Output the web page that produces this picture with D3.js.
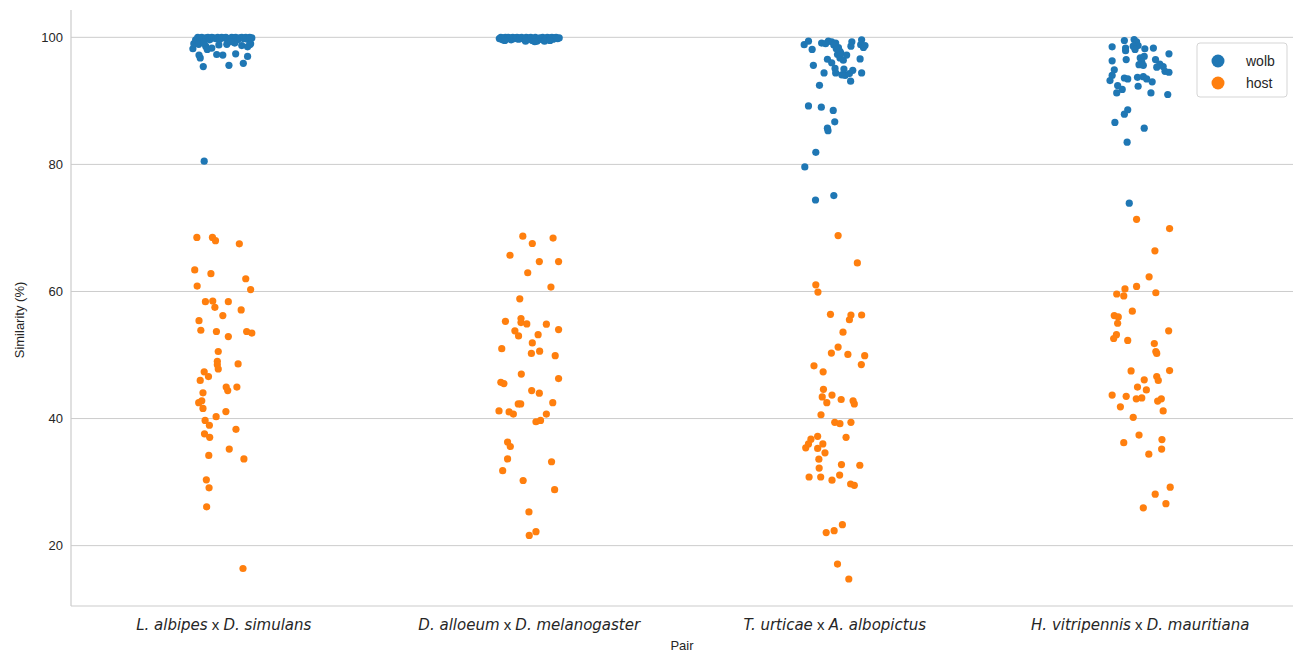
<!DOCTYPE html>
<html>
<head>
<meta charset="utf-8">
<script src="https://cdn.jsdelivr.net/npm/d3@7"></script>
<style>
body { margin: 0; background: #fff; }
text { fill: #262626; }
</style>
</head>
<body>
<svg id="chart" width="1293" height="654"></svg>
<script>
// categories (italic species names split from the " x ")
const pairs = [
	["L. albipes", "D. simulans"],
	["D. alloeum", "D. melanogaster"],
	["T. urticae", "A. albopictus"],
	["H. vitripennis", "D. mauritiana"]
];
const hues = ["wolb", "host"];
const colors = ["#1f77b4", "#ff7f0e"];
const yTicks = [20, 40, 60, 80, 100];

// each point: [jitter (fraction of category step), similarity %]
const albipesWolb = [
	[-0.101,98.2],[-0.098,99.0],[-0.092,99.6],[-0.085,100],[-0.078,99.8],[-0.072,100],[-0.065,99.7],[-0.059,99.9],
	[-0.052,100],[-0.046,99.6],[-0.039,100],[-0.033,99.9],[-0.026,99.8],[-0.020,100],[-0.013,99.7],[-0.007,100],
	[0.000,99.9],[0.007,100],[0.013,99.5],[0.020,99.8],[0.026,100],[0.033,99.9],[0.039,100],[0.046,99.6],
	[0.052,99.9],[0.059,100],[0.065,99.8],[0.072,100],[0.078,99.7],[0.085,100],[0.092,99.9],[0.088,99.0],
	[-0.082,98.9],[-0.059,98.6],[-0.039,98.3],[-0.016,98.8],[0.010,98.9],[0.036,99.1],[0.059,98.7],[0.078,98.5],
	[-0.065,99.2],[0.023,99.3],[-0.067,95.4],[0.017,95.6],[0.064,95.9],[0.078,97.0],[0.039,97.4],[-0.003,97.2],
	[-0.023,97.3],[-0.077,96.75],[-0.081,97.2],[-0.054,98.1],[0.085,98.85],[-0.064,80.5]
];
const albipesHost = [
	[-0.088,68.5],[-0.037,68.5],[-0.027,68.0],[0.051,67.5],[-0.095,63.4],[-0.042,62.8],[0.072,62.0],[-0.087,60.85],
	[0.088,60.3],[-0.060,58.4],[-0.036,58.5],[0.015,58.4],[-0.029,57.5],[0.057,57.1],[-0.003,56.2],[-0.081,55.4],
	[-0.075,53.9],[-0.024,53.7],[0.015,52.9],[0.075,53.7],[0.092,53.45],[-0.018,50.55],[-0.021,49.0],[-0.021,48.45],
	[-0.018,47.8],[0.047,48.6],[-0.064,47.35],[-0.050,46.6],[-0.077,46.0],[0.008,44.95],[0.013,44.4],[0.043,44.95],
	[-0.068,44.05],[-0.082,42.5],[-0.072,42.8],[-0.068,41.6],[0.007,41.1],[-0.025,40.3],[-0.061,39.7],[-0.047,38.95],
	[0.040,38.3],[-0.063,37.6],[-0.046,37.05],[-0.049,34.2],[0.018,35.2],[0.066,33.65],[-0.057,30.35],[-0.048,29.1],
	[-0.056,26.1],[0.063,16.4]
];
const alloeumWolb = [
	[-0.098,99.8],[-0.093,100],[-0.088,99.6],[-0.083,99.9],[-0.078,100],[-0.074,99.7],[-0.069,100],[-0.064,99.9],
	[-0.059,99.6],[-0.054,100],[-0.049,99.8],[-0.044,99.9],[-0.040,100],[-0.035,99.7],[-0.030,99.9],[-0.025,100],
	[-0.020,99.8],[-0.015,99.6],[-0.010,100],[-0.005,99.9],[0.000,99.7],[0.005,100],[0.010,99.5],[0.015,99.8],
	[0.020,100],[0.025,99.4],[0.030,99.6],[0.035,99.9],[0.040,99.7],[0.044,100],[0.049,99.5],[0.054,99.8],
	[0.059,100],[0.064,99.6],[0.069,99.9],[0.074,100],[0.078,99.7],[0.083,99.9],[0.088,100],[0.093,99.8],
	[0.098,99.9],[-0.080,99.5],[-0.012,99.4],[0.018,99.3],[0.050,99.4],[0.068,99.5]
];
const alloeumHost = [
	[-0.021,68.7],[0.010,67.55],[0.078,68.4],[-0.063,65.7],[0.033,64.7],[0.096,64.7],[-0.005,62.95],[0.071,60.7],
	[-0.031,58.85],[-0.078,55.3],[-0.027,55.75],[-0.027,55.1],[-0.008,54.9],[0.056,54.85],[0.096,54.0],[-0.047,53.8],
	[-0.035,53.0],[0.029,53.2],[0.010,51.9],[-0.090,51.0],[0.007,50.25],[0.034,50.6],[0.085,49.9],[-0.026,47.0],
	[0.096,46.3],[-0.093,45.7],[-0.083,45.5],[0.008,44.4],[0.033,44.0],[0.077,42.5],[-0.036,42.3],[-0.028,42.3],
	[-0.099,41.2],[-0.066,41.05],[-0.052,40.7],[0.056,40.7],[0.022,39.5],[0.037,39.7],[-0.071,36.3],[-0.062,35.6],
	[-0.071,33.65],[0.073,33.2],[-0.087,31.8],[-0.020,30.25],[0.083,28.8],[-0.001,25.3],[0.022,22.2],[0.000,21.6]
];
const urticaeWolb = [
	[-0.100,98.85],[-0.086,99.4],[-0.074,98.1],[-0.043,99.1],[-0.021,99.4],[-0.010,99.3],[0.003,99.1],[0.012,98.4],
	[0.017,97.8],[0.009,97.3],[0.017,96.75],[0.028,96.4],[0.056,99.3],[0.053,98.6],[0.088,99.6],[0.085,98.85],
	[0.094,98.4],[0.099,98.7],[0.083,96.6],[-0.024,96.55],[-0.070,95.6],[-0.035,94.4],[0.001,95.1],[0.003,94.4],
	[0.023,94.1],[0.034,94.0],[0.048,94.3],[0.059,94.8],[0.052,93.1],[0.088,94.4],[-0.050,92.45],[-0.086,89.2],
	[-0.044,89.0],[-0.005,88.5],[0.000,86.7],[-0.024,85.7],[-0.022,85.3],[-0.062,81.9],[-0.098,79.6],[-0.003,75.1],
	[-0.063,74.4],[-0.003,98.8],[0.020,97.5],[0.039,97.2],[0.030,95.0],[-0.010,96.0],[0.005,98.2],[-0.030,99.0]
];
const urticaeHost = [
	[0.011,68.8],[0.074,64.5],[-0.062,61.05],[-0.055,59.9],[-0.014,56.4],[0.053,56.3],[0.048,55.55],[0.088,56.3],
	[0.027,53.6],[0.011,51.25],[-0.011,50.3],[0.043,50.1],[0.098,49.9],[0.087,48.5],[-0.068,48.3],[-0.038,47.35],
	[-0.037,44.6],[-0.041,43.4],[-0.009,43.7],[-0.026,42.5],[0.021,43.0],[0.060,42.8],[0.064,42.3],[-0.045,40.6],
	[0.000,39.4],[0.017,39.2],[0.053,39.4],[0.037,37.05],[-0.056,37.2],[-0.078,36.75],[-0.086,36.0],[-0.095,35.4],
	[-0.056,35.3],[-0.039,36.0],[-0.032,34.6],[-0.052,33.6],[-0.051,32.2],[0.022,32.75],[0.082,32.65],[-0.084,30.8],
	[-0.046,30.8],[-0.009,30.3],[0.016,31.1],[0.052,29.7],[0.064,29.5],[0.025,23.3],[-0.002,22.35],[-0.028,22.05],
	[0.009,17.1],[0.046,14.75]
];
const vitripennisWolb = [
	[-0.052,99.5],[-0.020,99.65],[-0.012,99.3],[-0.007,98.7],[-0.023,98.6],[-0.048,98.3],[-0.092,98.5],[0.015,98.2],
	[0.043,98.3],[-0.017,98.1],[-0.048,97.9],[0.094,97.4],[-0.092,96.3],[-0.046,96.5],[0.000,96.75],[0.013,97.0],
	[0.005,96.1],[0.050,96.5],[0.064,95.8],[-0.004,95.7],[0.010,95.6],[0.054,95.3],[0.075,95.4],[-0.085,94.9],
	[0.081,94.65],[0.094,94.5],[-0.092,94.0],[-0.052,93.6],[-0.041,93.45],[-0.009,93.7],[0.010,93.8],[0.021,93.45],
	[0.039,93.0],[-0.099,93.2],[-0.007,92.3],[-0.074,92.4],[-0.059,91.8],[-0.077,91.25],[0.035,91.25],[0.090,91.0],
	[-0.041,88.6],[-0.052,87.9],[-0.083,86.6],[0.013,85.7],[-0.043,83.5],[-0.036,73.9]
];
const vitripennisHost = [
	[-0.012,71.35],[0.096,69.9],[0.048,66.4],[0.029,62.3],[-0.012,60.8],[-0.050,60.4],[-0.077,59.6],[-0.054,59.3],
	[0.051,59.8],[-0.026,56.9],[-0.085,56.2],[-0.072,56.0],[-0.074,55.0],[0.093,53.8],[-0.078,53.2],[-0.087,52.6],
	[-0.041,52.3],[0.046,51.8],[0.051,50.55],[0.054,50.25],[-0.030,47.5],[0.096,47.55],[0.013,46.1],[0.054,46.6],
	[0.059,46.0],[-0.009,44.95],[0.020,44.5],[-0.092,43.7],[-0.046,43.5],[-0.013,43.1],[0.005,43.25],[0.057,42.75],
	[0.069,43.1],[-0.065,41.85],[0.075,41.2],[-0.023,40.2],[-0.004,37.4],[-0.054,36.2],[0.071,36.7],[0.070,35.2],
	[0.028,34.4],[0.098,29.2],[0.049,28.1],[0.084,26.6],[0.010,25.95]
];

const wolbByPair = [albipesWolb, alloeumWolb, urticaeWolb, vitripennisWolb];
const hostByPair = [albipesHost, alloeumHost, urticaeHost, vitripennisHost];

const margin = {top: 10, right: 0, bottom: 48, left: 71};
const width = 1293, height = 654;
const svg = d3.select("#chart");

const x = d3.scalePoint()
	.domain(d3.range(pairs.length))
	.range([margin.left, width - margin.right])
	.padding(0.5);
const y = d3.scaleLinear()
	.domain([10.5, 104.3])
	.range([height - margin.bottom, margin.top]);

// grid
svg.append("g")
	.selectAll("line")
	.data(yTicks)
	.enter().append("line")
	.attr("x1", margin.left).attr("x2", width - margin.right)
	.attr("y1", d => y(d)).attr("y2", d => y(d))
	.attr("stroke", "#cccccc").attr("stroke-width", 1);

// spines
svg.append("line")
	.attr("x1", margin.left).attr("x2", margin.left)
	.attr("y1", margin.top).attr("y2", height - margin.bottom)
	.attr("stroke", "#cccccc").attr("stroke-width", 1.2);
svg.append("line")
	.attr("x1", margin.left).attr("x2", width - margin.right)
	.attr("y1", height - margin.bottom).attr("y2", height - margin.bottom)
	.attr("stroke", "#cccccc").attr("stroke-width", 1.2);

// y axis ticks
const yAxis = d3.axisLeft(y).tickValues(yTicks).tickSize(0).tickPadding(8);
const gy = svg.append("g")
	.attr("transform", `translate(${margin.left},0)`)
	.call(yAxis);
gy.select(".domain").remove();
gy.selectAll("text")
	.attr("font-family", "Liberation Sans, Arial, sans-serif")
	.attr("font-size", 13)
	.attr("fill", "#262626");

// x tick labels
const xl = svg.append("g").selectAll("text")
	.data(pairs)
	.enter().append("text")
	.attr("x", (d, i) => x(i))
	.attr("y", height - margin.bottom + 24)
	.attr("text-anchor", "middle")
	.attr("font-size", 15);
xl.append("tspan")
	.attr("font-family", "DejaVu Sans, sans-serif")
	.attr("font-style", "italic")
	.text(d => d[0]);
xl.append("tspan")
	.attr("font-family", "Liberation Sans, Arial, sans-serif")
	.text(" x ");
xl.append("tspan")
	.attr("font-family", "DejaVu Sans, sans-serif")
	.attr("font-style", "italic")
	.text(d => d[1]);

// axis titles
svg.append("text")
	.attr("x", (margin.left + width - margin.right) / 2)
	.attr("y", 650)
	.attr("text-anchor", "middle")
	.attr("font-family", "Liberation Sans, Arial, sans-serif")
	.attr("font-size", 13)
	.text("Pair");
svg.append("text")
	.attr("transform", "translate(24,320) rotate(-90)")
	.attr("text-anchor", "middle")
	.attr("font-family", "Liberation Sans, Arial, sans-serif")
	.attr("font-size", 13)
	.text("Similarity (%)");

// strip points
const step = x.step();
const points = [];
wolbByPair.forEach((arr, i) => arr.forEach(p => points.push({pair: i, hue: 0, j: p[0], v: p[1]})));
hostByPair.forEach((arr, i) => arr.forEach(p => points.push({pair: i, hue: 1, j: p[0], v: p[1]})));

svg.append("g")
	.selectAll("circle")
	.data(points)
	.enter().append("circle")
	.attr("cx", d => x(d.pair) + d.j * step)
	.attr("cy", d => y(d.v))
	.attr("r", 3.6)
	.attr("fill", d => colors[d.hue]);

// legend
const legend = svg.append("g").attr("transform", "translate(1197,43)");
legend.append("rect")
	.attr("width", 90).attr("height", 54).attr("rx", 3)
	.attr("fill", "#fff").attr("fill-opacity", 0.8)
	.attr("stroke", "#d5d5d5");
const li = legend.selectAll("g.item")
	.data(hues)
	.enter().append("g")
	.attr("transform", (d, i) => `translate(0,${18 + i * 22})`);
li.append("circle")
	.attr("cx", 21).attr("r", 6.5)
	.attr("fill", (d, i) => colors[i]);
li.append("text")
	.attr("x", 49).attr("dy", "0.35em")
	.attr("font-family", "Liberation Sans, Arial, sans-serif")
	.attr("font-size", 14)
	.text(d => d);
</script>
</body>
</html>
